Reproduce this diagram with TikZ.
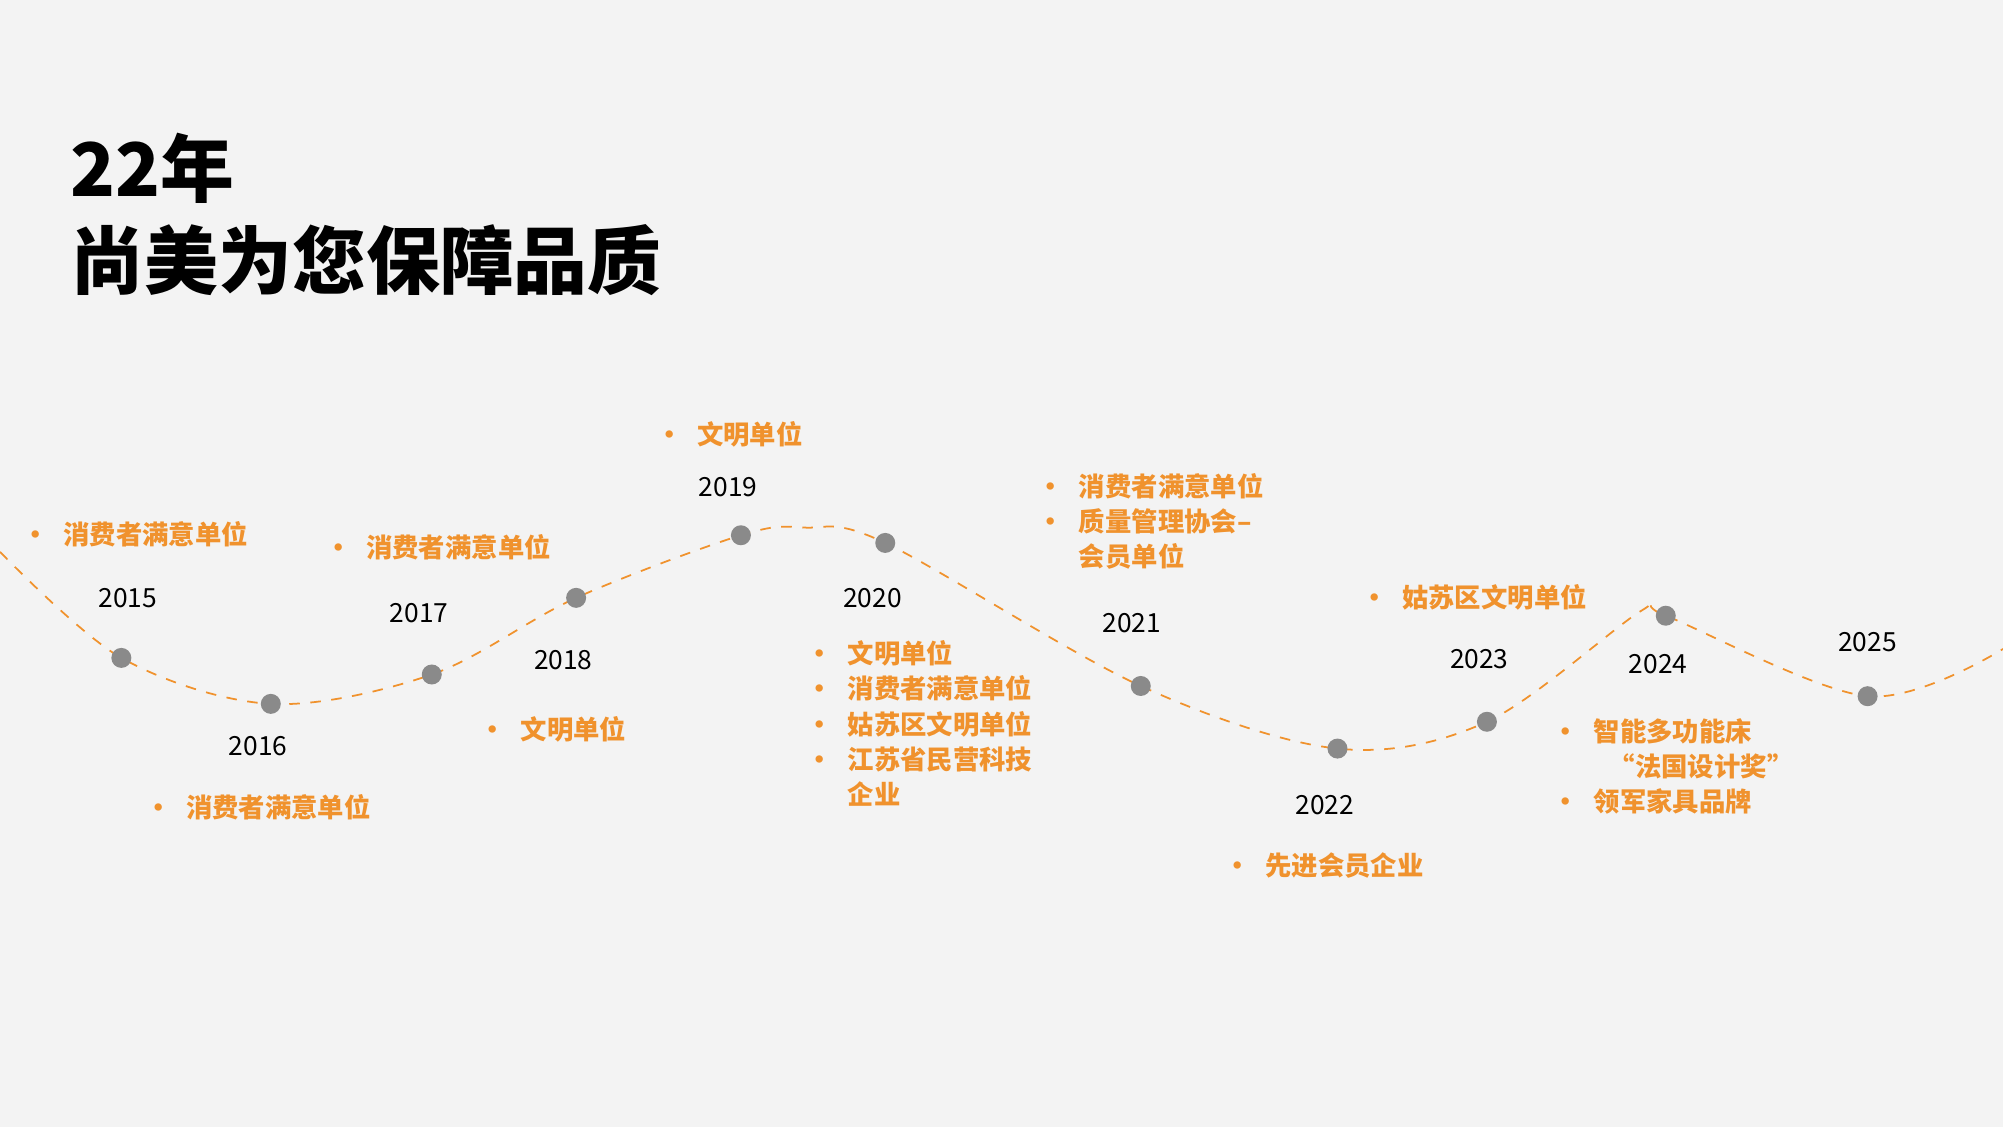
\documentclass[tikz,border=0pt]{standalone}
\usepackage{fontspec}
\setmainfont{Noto Sans CJK SC}
\definecolor{bg}{HTML}{F3F3F3}
\definecolor{orng}{HTML}{F0922D}
\definecolor{dotgray}{HTML}{8A8A8A}
\newcommand{\itm}[1]{\makebox[0.41cm][l]{\textbullet}#1}
\newcommand{\cnt}[1]{\hspace*{0.41cm}#1}
\tikzset{
  dot/.style={circle,fill=dotgray,inner sep=0pt,minimum size=0.2cm},
  yr/.style={font=\fontsize{7.5}{9}\selectfont,text=black},
  award/.style={anchor=north west,inner sep=0pt,align=left,text=orng,
    font=\fontsize{7.5}{10}\selectfont\bfseries},
  wave/.style={orng,dashed,line width=0.5pt}
}
\begin{document}
\begin{tikzpicture}[x=0.012775cm,y=-0.012775cm]
\useasboundingbox[fill=bg] (0,0) rectangle (1568,882);

\node[anchor=north west,inner sep=0pt,align=left,font=\fontsize{21}{26}\selectfont\bfseries] (title) at (55,104) {22年\\尚美为您保障品质};

% wave
\draw[wave] plot[smooth,tension=0.55] coordinates {(0,432) (95,515) (212,551) (338,528) (451,468) (580,419) (630,413) (693,425) (893,537) (1047,586) (1164,565) (1285,478) (1304,482) (1462,545) (1568,508)};

\node[dot] (d2015) at (95,515) {};
\node[dot] (d2016) at (212,551) {};
\node[dot] (d2017) at (338,528) {};
\node[dot] (d2018) at (451,468) {};
\node[dot] (d2019) at (580,419) {};
\node[dot] (d2020) at (693,425) {};
\node[dot] (d2021) at (893,537) {};
\node[dot] (d2022) at (1047,586) {};
\node[dot] (d2023) at (1164,565) {};
\node[dot] (d2024) at (1304,482) {};
\node[dot] (d2025) at (1462,545) {};

\node[yr] (y2015) at (100,468) {2015};
\node[yr] (y2016) at (202,584) {2016};
\node[yr] (y2017) at (328,480) {2017};
\node[yr] (y2018) at (441,517) {2018};
\node[yr] (y2019) at (570,381) {2019};
\node[yr] (y2020) at (683,468) {2020};
\node[yr] (y2021) at (886,488) {2021};
\node[yr] (y2022) at (1037,630) {2022};
\node[yr] (y2023) at (1158,516) {2023};
\node[yr] (y2024) at (1298,520) {2024};
\node[yr] (y2025) at (1462,503) {2025};

% awards
\node[award] (a2015) at (17,408) {\itm{消费者满意单位}};
\node[award] (a2016) at (113,621) {\itm{消费者满意单位}};
\node[award] (a2017) at (254,418) {\itm{消费者满意单位}};
\node[award] (a2018) at (375,560) {\itm{文明单位}};
\node[award] (a2019) at (513,329) {\itm{文明单位}};
\node[award] (a2020) at (631,501) {\itm{文明单位}\\\itm{消费者满意单位}\\\itm{姑苏区文明单位}\\\itm{江苏省民营科技}\\\cnt{企业}};
\node[award] (a2021) at (812,370) {\itm{消费者满意单位}\\\itm{质量管理协会--}\\\cnt{会员单位}};
\node[award] (a2022) at (958,667) {\itm{先进会员企业}};
\node[award] (a2023) at (1065,457) {\itm{姑苏区文明单位}};
\node[award] (a2024) at (1215,562) {\itm{智能多功能床}\\\cnt{\hspace*{0.15cm}“法国设计奖”}\\\itm{领军家具品牌}};
\end{tikzpicture}
\end{document}
